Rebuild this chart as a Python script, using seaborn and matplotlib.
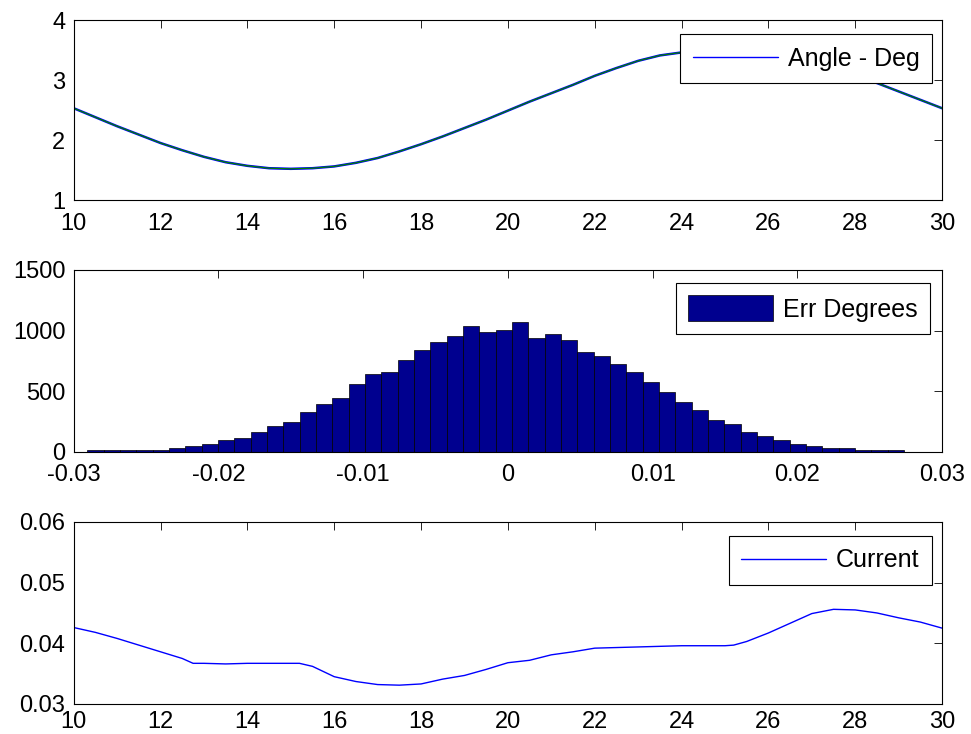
import numpy as np
import pandas as pd
import matplotlib
matplotlib.use('Agg')
import matplotlib.pyplot as plt
import seaborn as sns

# angle trace (deg)
angle_t = [10.0, 10.5, 11.0, 11.5, 12.0, 12.5, 13.0, 13.5, 14.0, 14.5, 15.0, 15.5, 16.0, 16.5,
           17.0, 17.5, 18.0, 18.5, 19.0, 19.5, 20.0, 20.5, 21.0, 21.5, 22.0, 22.5, 23.0, 23.5,
           24.0, 24.5, 25.0, 25.5, 26.0, 26.5, 27.0, 27.5, 28.0, 28.5, 29.0, 29.5, 30.0]
angle_deg = [2.53, 2.38, 2.23, 2.09, 1.95, 1.83, 1.72, 1.63, 1.57, 1.53, 1.52, 1.53, 1.56, 1.62,
             1.70, 1.81, 1.93, 2.06, 2.20, 2.34, 2.49, 2.64, 2.78, 2.92, 3.07, 3.20, 3.32, 3.41,
             3.46, 3.49, 3.50, 3.49, 3.45, 3.39, 3.30, 3.19, 3.07, 2.95, 2.81, 2.67, 2.53]

# error histogram, 50 bins
err_lo, err_hi, n_bins = -0.02906, 0.02737, 50
err_counts = [14, 14, 15, 15, 16, 36, 52, 69, 102, 115, 165, 217, 250, 332, 398, 448, 563, 643,
              659, 761, 843, 909, 959, 1038, 992, 1005, 1071, 937, 973, 923, 824, 791, 725, 659,
              577, 495, 409, 343, 261, 228, 165, 132, 99, 69, 49, 33, 33, 16, 16, 16]

# current trace
cur_t = [10.0, 10.5, 11.0, 11.5, 12.0, 12.5, 12.75, 13.0, 13.5, 14.0, 14.5, 15.0, 15.2, 15.5,
         16.0, 16.5, 17.0, 17.5, 18.0, 18.5, 19.0, 19.5, 20.0, 20.5, 21.0, 21.5, 22.0, 22.5,
         23.0, 23.5, 24.0, 24.5, 25.0, 25.2, 25.5, 26.0, 26.5, 27.0, 27.5, 28.0, 28.5, 29.0,
         29.5, 30.0]
cur_val = [0.0426, 0.0418, 0.0408, 0.0397, 0.0386, 0.0375, 0.0367, 0.0367, 0.0366, 0.0367,
           0.0367, 0.0367, 0.0367, 0.0362, 0.0345, 0.0337, 0.0332, 0.0331, 0.0333, 0.0341,
           0.0347, 0.0357, 0.0368, 0.0372, 0.0381, 0.0386, 0.0392, 0.0393, 0.0394, 0.0395,
           0.0396, 0.0396, 0.0396, 0.0397, 0.0403, 0.0417, 0.0433, 0.0449, 0.0456, 0.0455,
           0.0450, 0.0442, 0.0435, 0.0425]

sns.set_theme(style='white')
plt.rcParams['font.family'] = ['Liberation Sans', 'DejaVu Sans']
plt.rcParams['font.size'] = 17
plt.rcParams['text.color'] = 'black'
FS = 17

fig = plt.figure(figsize=(9.71, 7.34), dpi=100)
ax1 = fig.add_axes([0.0759, 0.7275, 0.8943, 0.2452])
ax2 = fig.add_axes([0.0759, 0.3842, 0.8943, 0.2480])
ax3 = fig.add_axes([0.0759, 0.0409, 0.8943, 0.2480])


def matlab_axes(ax, xpad=9):
    for s in ax.spines.values():
        s.set_color('black')
        s.set_linewidth(0.8)
    ax.tick_params(direction='in', length=6, width=0.6, top=True, right=True,
                   labelsize=FS, colors='black')
    ax.tick_params(axis='x', pad=xpad)
    ax.tick_params(axis='y', pad=6)
    ax.set_xlabel('')
    ax.set_ylabel('')


def matlab_legend(ax, anchor, **kw):
    leg = ax.legend(loc='upper right', bbox_to_anchor=anchor, borderaxespad=0,
                    fancybox=False, shadow=False, framealpha=1, fontsize=18,
                    borderpad=0.5, handletextpad=0.4, labelcolor='black', **kw)
    leg.get_frame().set_edgecolor('black')
    leg.get_frame().set_linewidth(0.8)
    return leg


# top: angle
df_ang = pd.DataFrame({'t': angle_t, 'deg': angle_deg})
sns.lineplot(data=df_ang, x='t', y='deg', ax=ax1, color='#0000ff', linewidth=1.8,
             label='Angle - Deg', sort=False, errorbar=None)
sns.lineplot(data=df_ang, x='t', y='deg', ax=ax1, color='#007f00', linewidth=0.9,
             sort=False, errorbar=None, legend=False)
ax1.set_xlim(10, 30)
ax1.set_ylim(1, 4)
ax1.set_xticks(range(10, 31, 2))
ax1.set_yticks([1, 2, 3, 4])
matlab_axes(ax1)
leg1 = matlab_legend(ax1, (0.9885, 0.922), handlelength=3.4)
leg1.get_lines()[0].set_linewidth(1.0)

# middle: error histogram
bin_w = (err_hi - err_lo) / n_bins
df_err = pd.DataFrame({'err': err_lo + bin_w * (np.arange(n_bins) + 0.5),
                       'count': err_counts})
sns.histplot(data=df_err, x='err', weights='count', bins=n_bins,
             binrange=(err_lo, err_hi), ax=ax2, color='#00008f',
             edgecolor='black', linewidth=0.5, alpha=1, label='Err Degrees')
ax2.set_xlim(-0.03, 0.03)
ax2.set_ylim(0, 1500)
xt = [-0.03, -0.02, -0.01, 0, 0.01, 0.02, 0.03]
ax2.set_xticks(xt)
ax2.set_xticklabels(['-0.03', '-0.02', '-0.01', '0', '0.01', '0.02', '0.03'])
ax2.set_yticks([0, 500, 1000, 1500])
ax2.set_yticklabels(['0', '500', '1000', '1500'])
matlab_axes(ax2)
matlab_legend(ax2, (0.9864, 0.9286), handlelength=3.4, handleheight=1.2)

# bottom: current
df_cur = pd.DataFrame({'t': cur_t, 'amp': cur_val})
sns.lineplot(data=df_cur, x='t', y='amp', ax=ax3, color='#0000ff', linewidth=1.0,
             label='Current', sort=False, errorbar=None)
ax3.set_xlim(10, 30)
ax3.set_ylim(0.03, 0.06)
ax3.set_xticks(range(10, 31, 2))
ax3.set_yticks([0.03, 0.04, 0.05, 0.06])
ax3.set_yticklabels(['0.03', '0.04', '0.05', '0.06'])
matlab_axes(ax3, xpad=5)
matlab_legend(ax3, (0.9885, 0.923), handlelength=3.4)

fig.savefig('out.png', dpi=100, facecolor='white')
